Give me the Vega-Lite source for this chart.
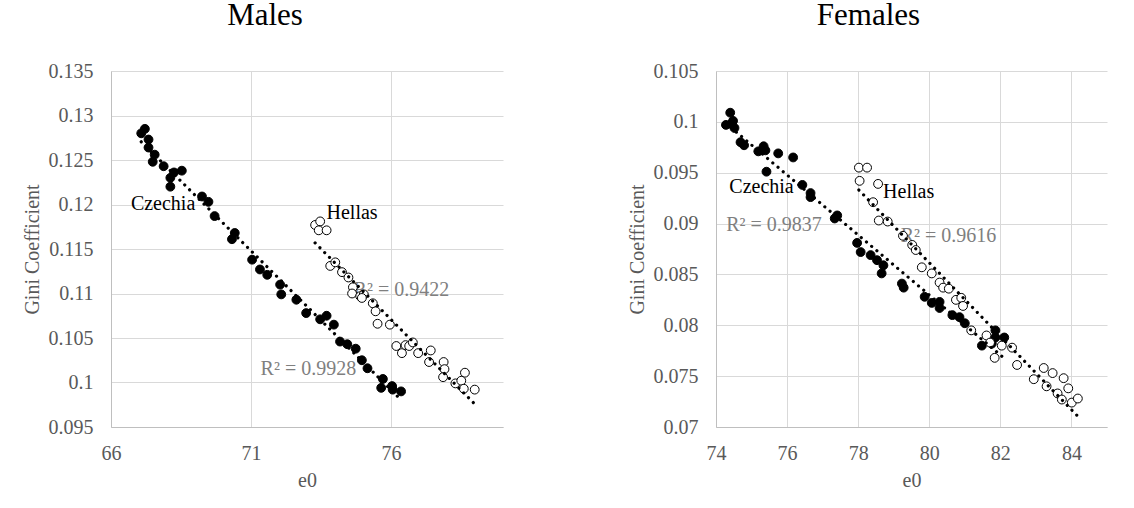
{
  "$schema": "https://vega.github.io/schema/vega-lite/v6.json",
  "padding": {"left": 22, "top": 0, "right": 5, "bottom": 5},
  "background": "white",
  "bounds": "flush",
  "spacing": 213,
  "datasets": {
    "pts": [
      {"panel":"Males","country":"Czechia","e0":67.08,"gini":0.1280},
      {"panel":"Males","country":"Czechia","e0":67.21,"gini":0.1285},
      {"panel":"Males","country":"Czechia","e0":67.34,"gini":0.1273},
      {"panel":"Males","country":"Czechia","e0":67.34,"gini":0.1264},
      {"panel":"Males","country":"Czechia","e0":67.56,"gini":0.1256},
      {"panel":"Males","country":"Czechia","e0":67.49,"gini":0.1248},
      {"panel":"Males","country":"Czechia","e0":67.88,"gini":0.1243},
      {"panel":"Males","country":"Czechia","e0":68.12,"gini":0.1230},
      {"panel":"Males","country":"Czechia","e0":68.25,"gini":0.1236},
      {"panel":"Males","country":"Czechia","e0":68.53,"gini":0.1238},
      {"panel":"Males","country":"Czechia","e0":68.12,"gini":0.1220},
      {"panel":"Males","country":"Czechia","e0":69.25,"gini":0.1209},
      {"panel":"Males","country":"Czechia","e0":69.48,"gini":0.1203},
      {"panel":"Males","country":"Czechia","e0":69.70,"gini":0.1187},
      {"panel":"Males","country":"Czechia","e0":70.32,"gini":0.1161},
      {"panel":"Males","country":"Czechia","e0":70.42,"gini":0.1168},
      {"panel":"Males","country":"Czechia","e0":71.04,"gini":0.1138},
      {"panel":"Males","country":"Czechia","e0":71.32,"gini":0.1127},
      {"panel":"Males","country":"Czechia","e0":71.58,"gini":0.1121},
      {"panel":"Males","country":"Czechia","e0":72.04,"gini":0.1110},
      {"panel":"Males","country":"Czechia","e0":72.08,"gini":0.1099},
      {"panel":"Males","country":"Czechia","e0":72.62,"gini":0.1093},
      {"panel":"Males","country":"Czechia","e0":72.97,"gini":0.1078},
      {"panel":"Males","country":"Czechia","e0":73.47,"gini":0.1071},
      {"panel":"Males","country":"Czechia","e0":73.70,"gini":0.1075},
      {"panel":"Males","country":"Czechia","e0":73.96,"gini":0.1065},
      {"panel":"Males","country":"Czechia","e0":74.18,"gini":0.1046},
      {"panel":"Males","country":"Czechia","e0":74.44,"gini":0.1043},
      {"panel":"Males","country":"Czechia","e0":74.74,"gini":0.1038},
      {"panel":"Males","country":"Czechia","e0":74.96,"gini":0.1025},
      {"panel":"Males","country":"Czechia","e0":75.16,"gini":0.1016},
      {"panel":"Males","country":"Czechia","e0":75.71,"gini":0.1004},
      {"panel":"Males","country":"Czechia","e0":75.65,"gini":0.0994},
      {"panel":"Males","country":"Czechia","e0":76.04,"gini":0.0996},
      {"panel":"Males","country":"Czechia","e0":76.06,"gini":0.0992},
      {"panel":"Males","country":"Czechia","e0":76.36,"gini":0.0990},
      {"panel":"Males","country":"Hellas","e0":73.29,"gini":0.1177},
      {"panel":"Males","country":"Hellas","e0":73.47,"gini":0.1181},
      {"panel":"Males","country":"Hellas","e0":73.42,"gini":0.1171},
      {"panel":"Males","country":"Hellas","e0":73.70,"gini":0.1171},
      {"panel":"Males","country":"Hellas","e0":73.83,"gini":0.1131},
      {"panel":"Males","country":"Hellas","e0":74.01,"gini":0.1135},
      {"panel":"Males","country":"Hellas","e0":74.25,"gini":0.1124},
      {"panel":"Males","country":"Hellas","e0":74.48,"gini":0.1118},
      {"panel":"Males","country":"Hellas","e0":74.64,"gini":0.1107},
      {"panel":"Males","country":"Hellas","e0":74.61,"gini":0.1100},
      {"panel":"Males","country":"Hellas","e0":74.90,"gini":0.1097},
      {"panel":"Males","country":"Hellas","e0":75.03,"gini":0.1099},
      {"panel":"Males","country":"Hellas","e0":74.96,"gini":0.1095},
      {"panel":"Males","country":"Hellas","e0":75.35,"gini":0.1089},
      {"panel":"Males","country":"Hellas","e0":75.45,"gini":0.1080},
      {"panel":"Males","country":"Hellas","e0":75.52,"gini":0.1066},
      {"panel":"Males","country":"Hellas","e0":75.96,"gini":0.1065},
      {"panel":"Males","country":"Hellas","e0":76.19,"gini":0.1041},
      {"panel":"Males","country":"Hellas","e0":76.39,"gini":0.1033},
      {"panel":"Males","country":"Hellas","e0":76.52,"gini":0.1042},
      {"panel":"Males","country":"Hellas","e0":76.65,"gini":0.1041},
      {"panel":"Males","country":"Hellas","e0":76.78,"gini":0.1045},
      {"panel":"Males","country":"Hellas","e0":76.97,"gini":0.1033},
      {"panel":"Males","country":"Hellas","e0":77.42,"gini":0.1036},
      {"panel":"Males","country":"Hellas","e0":77.36,"gini":0.1023},
      {"panel":"Males","country":"Hellas","e0":77.88,"gini":0.1023},
      {"panel":"Males","country":"Hellas","e0":77.91,"gini":0.1015},
      {"panel":"Males","country":"Hellas","e0":77.86,"gini":0.1006},
      {"panel":"Males","country":"Hellas","e0":78.30,"gini":0.0999},
      {"panel":"Males","country":"Hellas","e0":78.64,"gini":0.1011},
      {"panel":"Males","country":"Hellas","e0":78.51,"gini":0.1002},
      {"panel":"Males","country":"Hellas","e0":78.60,"gini":0.0993},
      {"panel":"Males","country":"Hellas","e0":78.99,"gini":0.0992},
      {"panel":"Females","country":"Czechia","e0":74.40,"gini":0.1009},
      {"panel":"Females","country":"Czechia","e0":74.28,"gini":0.0997},
      {"panel":"Females","country":"Czechia","e0":74.48,"gini":0.1001},
      {"panel":"Females","country":"Czechia","e0":74.52,"gini":0.0994},
      {"panel":"Females","country":"Czechia","e0":74.43,"gini":0.0998},
      {"panel":"Females","country":"Czechia","e0":74.69,"gini":0.0980},
      {"panel":"Females","country":"Czechia","e0":74.79,"gini":0.0977},
      {"panel":"Females","country":"Czechia","e0":75.19,"gini":0.0971},
      {"panel":"Females","country":"Czechia","e0":75.34,"gini":0.0976},
      {"panel":"Females","country":"Czechia","e0":75.39,"gini":0.0972},
      {"panel":"Females","country":"Czechia","e0":75.75,"gini":0.0969},
      {"panel":"Females","country":"Czechia","e0":75.42,"gini":0.0951},
      {"panel":"Females","country":"Czechia","e0":76.17,"gini":0.0965},
      {"panel":"Females","country":"Czechia","e0":76.43,"gini":0.0938},
      {"panel":"Females","country":"Czechia","e0":76.66,"gini":0.0930},
      {"panel":"Females","country":"Czechia","e0":76.66,"gini":0.0926},
      {"panel":"Females","country":"Czechia","e0":77.34,"gini":0.0905},
      {"panel":"Females","country":"Czechia","e0":77.41,"gini":0.0908},
      {"panel":"Females","country":"Czechia","e0":77.97,"gini":0.0881},
      {"panel":"Females","country":"Czechia","e0":78.07,"gini":0.0872},
      {"panel":"Females","country":"Czechia","e0":78.35,"gini":0.0869},
      {"panel":"Females","country":"Czechia","e0":78.53,"gini":0.0864},
      {"panel":"Females","country":"Czechia","e0":78.71,"gini":0.0859},
      {"panel":"Females","country":"Czechia","e0":78.66,"gini":0.0851},
      {"panel":"Females","country":"Czechia","e0":79.23,"gini":0.0841},
      {"panel":"Females","country":"Czechia","e0":79.28,"gini":0.0837},
      {"panel":"Females","country":"Czechia","e0":79.87,"gini":0.0828},
      {"panel":"Females","country":"Czechia","e0":80.07,"gini":0.0822},
      {"panel":"Females","country":"Czechia","e0":80.29,"gini":0.0823},
      {"panel":"Females","country":"Czechia","e0":80.29,"gini":0.0817},
      {"panel":"Females","country":"Czechia","e0":80.65,"gini":0.0810},
      {"panel":"Females","country":"Czechia","e0":80.85,"gini":0.0808},
      {"panel":"Females","country":"Czechia","e0":81.00,"gini":0.0802},
      {"panel":"Females","country":"Czechia","e0":81.48,"gini":0.0780},
      {"panel":"Females","country":"Czechia","e0":81.86,"gini":0.0795},
      {"panel":"Females","country":"Czechia","e0":81.86,"gini":0.0788},
      {"panel":"Females","country":"Czechia","e0":82.11,"gini":0.0788},
      {"panel":"Females","country":"Czechia","e0":81.76,"gini":0.0782},
      {"panel":"Females","country":"Hellas","e0":78.02,"gini":0.0955},
      {"panel":"Females","country":"Hellas","e0":78.25,"gini":0.0955},
      {"panel":"Females","country":"Hellas","e0":78.04,"gini":0.0942},
      {"panel":"Females","country":"Hellas","e0":78.56,"gini":0.0939},
      {"panel":"Females","country":"Hellas","e0":78.42,"gini":0.0921},
      {"panel":"Females","country":"Hellas","e0":78.58,"gini":0.0903},
      {"panel":"Females","country":"Hellas","e0":78.83,"gini":0.0902},
      {"panel":"Females","country":"Hellas","e0":79.26,"gini":0.0888},
      {"panel":"Females","country":"Hellas","e0":79.52,"gini":0.0879},
      {"panel":"Females","country":"Hellas","e0":79.62,"gini":0.0874},
      {"panel":"Females","country":"Hellas","e0":79.79,"gini":0.0857},
      {"panel":"Females","country":"Hellas","e0":80.07,"gini":0.0851},
      {"panel":"Females","country":"Hellas","e0":80.29,"gini":0.0842},
      {"panel":"Females","country":"Hellas","e0":80.39,"gini":0.0837},
      {"panel":"Females","country":"Hellas","e0":80.55,"gini":0.0836},
      {"panel":"Females","country":"Hellas","e0":80.75,"gini":0.0825},
      {"panel":"Females","country":"Hellas","e0":80.90,"gini":0.0827},
      {"panel":"Females","country":"Hellas","e0":80.95,"gini":0.0819},
      {"panel":"Females","country":"Hellas","e0":81.18,"gini":0.0795},
      {"panel":"Females","country":"Hellas","e0":81.61,"gini":0.0790},
      {"panel":"Females","country":"Hellas","e0":81.71,"gini":0.0783},
      {"panel":"Females","country":"Hellas","e0":82.04,"gini":0.0780},
      {"panel":"Females","country":"Hellas","e0":81.84,"gini":0.0768},
      {"panel":"Females","country":"Hellas","e0":82.33,"gini":0.0778},
      {"panel":"Females","country":"Hellas","e0":82.47,"gini":0.0761},
      {"panel":"Females","country":"Hellas","e0":82.94,"gini":0.0747},
      {"panel":"Females","country":"Hellas","e0":83.22,"gini":0.0758},
      {"panel":"Females","country":"Hellas","e0":83.30,"gini":0.0740},
      {"panel":"Females","country":"Hellas","e0":83.47,"gini":0.0753},
      {"panel":"Females","country":"Hellas","e0":83.61,"gini":0.0733},
      {"panel":"Females","country":"Hellas","e0":83.78,"gini":0.0748},
      {"panel":"Females","country":"Hellas","e0":83.73,"gini":0.0727},
      {"panel":"Females","country":"Hellas","e0":83.91,"gini":0.0738},
      {"panel":"Females","country":"Hellas","e0":84.01,"gini":0.0724},
      {"panel":"Females","country":"Hellas","e0":84.18,"gini":0.0728}
    ],
    "labels": [
      {"panel":"Males","kind":"name","text":"Czechia","e0":67.86,"gini":0.1201},
      {"panel":"Males","kind":"name","text":"Hellas","e0":74.61,"gini":0.1191},
      {"panel":"Males","kind":"r2","text":"R² = 0.9928","e0":73.05,"gini":0.1015},
      {"panel":"Males","kind":"r2","text":"R² = 0.9422","e0":76.37,"gini":0.1104},
      {"panel":"Females","kind":"name","text":"Czechia","e0":75.28,"gini":0.0936},
      {"panel":"Females","kind":"name","text":"Hellas","e0":79.42,"gini":0.0931},
      {"panel":"Females","kind":"r2","text":"R² = 0.9837","e0":75.63,"gini":0.0899},
      {"panel":"Females","kind":"r2","text":"R² = 0.9616","e0":80.54,"gini":0.0888}
    ]
  },
  "hconcat": [
    {
      "width": 392,
      "height": 356,
      "title": {"text": "Males", "anchor": "middle", "frame": "group", "baseline": "alphabetic", "offset": 5, "dx": -42, "fontSize": 31, "font": "Liberation Serif", "fontWeight": "normal", "color": "black"},
      "encoding": {
        "x": {"field": "e0", "type": "quantitative", "title": "e0",
              "scale": {"domain": [66, 80], "nice": false, "zero": false},
              "axis": {"values": [66, 71, 76]}},
        "y": {"field": "gini", "type": "quantitative", "title": "Gini Coefficient",
              "scale": {"domain": [0.095, 0.135], "nice": false, "zero": false},
              "axis": {"values": [0.095, 0.1, 0.105, 0.11, 0.115, 0.12, 0.125, 0.13, 0.135], "format": ".3~f"}}
      },
      "layer": [
        {
          "data": {"name": "labels"},
          "transform": [{"filter": "datum.panel === 'Males' && datum.kind === 'r2'"}],
          "mark": {"type": "text", "font": "Liberation Serif", "fontSize": 20, "color": "#7f7f7f", "align": "center", "baseline": "middle"},
          "encoding": {"text": {"field": "text"}}
        },
        {
          "data": {"name": "labels"},
          "transform": [{"filter": "datum.panel === 'Males' && datum.kind === 'name'"}],
          "mark": {"type": "text", "font": "Liberation Serif", "fontSize": 20, "color": "black", "align": "center", "baseline": "middle"},
          "encoding": {"text": {"field": "text"}}
        },
        {
          "data": {"name": "pts"},
          "transform": [{"filter": "datum.panel === 'Males'"}],
          "mark": {"type": "circle", "size": 78, "stroke": "black", "strokeWidth": 1, "opacity": 1},
          "encoding": {
            "fill": {"field": "country", "type": "nominal", "scale": {"domain": ["Czechia", "Hellas"], "range": ["black", "white"]}, "legend": null}
          }
        },
        {
          "data": {"name": "pts"},
          "transform": [
            {"filter": "datum.panel === 'Males'"},
            {"regression": "gini", "on": "e0", "groupby": ["country"]}
          ],
          "mark": {"type": "line", "color": "black", "strokeWidth": 3.2, "strokeCap": "round", "strokeDash": [0.01, 6.8]},
          "encoding": {"detail": {"field": "country", "type": "nominal"}}
        }
      ]
    },
    {
      "width": 391,
      "height": 356,
      "title": {"text": "Females", "anchor": "middle", "frame": "group", "baseline": "alphabetic", "offset": 5, "dx": -43, "fontSize": 31, "font": "Liberation Serif", "fontWeight": "normal", "color": "black"},
      "encoding": {
        "x": {"field": "e0", "type": "quantitative", "title": "e0",
              "scale": {"domain": [74, 85], "nice": false, "zero": false},
              "axis": {"values": [74, 76, 78, 80, 82, 84]}},
        "y": {"field": "gini", "type": "quantitative", "title": "Gini Coefficient",
              "scale": {"domain": [0.07, 0.105], "nice": false, "zero": false},
              "axis": {"values": [0.07, 0.075, 0.08, 0.085, 0.09, 0.095, 0.1, 0.105], "format": ".3~f"}}
      },
      "layer": [
        {
          "data": {"name": "labels"},
          "transform": [{"filter": "datum.panel === 'Females' && datum.kind === 'r2'"}],
          "mark": {"type": "text", "font": "Liberation Serif", "fontSize": 20, "color": "#7f7f7f", "align": "center", "baseline": "middle"},
          "encoding": {"text": {"field": "text"}}
        },
        {
          "data": {"name": "labels"},
          "transform": [{"filter": "datum.panel === 'Females' && datum.kind === 'name'"}],
          "mark": {"type": "text", "font": "Liberation Serif", "fontSize": 20, "color": "black", "align": "center", "baseline": "middle"},
          "encoding": {"text": {"field": "text"}}
        },
        {
          "data": {"name": "pts"},
          "transform": [{"filter": "datum.panel === 'Females'"}],
          "mark": {"type": "circle", "size": 78, "stroke": "black", "strokeWidth": 1, "opacity": 1},
          "encoding": {
            "fill": {"field": "country", "type": "nominal", "scale": {"domain": ["Czechia", "Hellas"], "range": ["black", "white"]}, "legend": null}
          }
        },
        {
          "data": {"name": "pts"},
          "transform": [
            {"filter": "datum.panel === 'Females'"},
            {"regression": "gini", "on": "e0", "groupby": ["country"]}
          ],
          "mark": {"type": "line", "color": "black", "strokeWidth": 3.2, "strokeCap": "round", "strokeDash": [0.01, 6.8]},
          "encoding": {"detail": {"field": "country", "type": "nominal"}}
        }
      ]
    }
  ],
  "config": {
    "font": "Liberation Serif",
    "view": {"stroke": null},
    "axis": {
      "labelFont": "Liberation Serif", "labelFontSize": 20, "labelColor": "#595959",
      "titleFont": "Liberation Serif", "titleFontSize": 20, "titleColor": "#595959", "titleFontWeight": "normal",
      "gridColor": "#d9d9d9", "gridWidth": 1, "domainColor": "#bfbfbf", "domainWidth": 1,
      "ticks": false, "tickSize": 0, "labelFlush": false, "labelOverlap": false
    },
    "axisX": {"labelPadding": 16, "titlePadding": 7},
    "axisY": {"labelPadding": 18, "titlePadding": 6}
  }
}
